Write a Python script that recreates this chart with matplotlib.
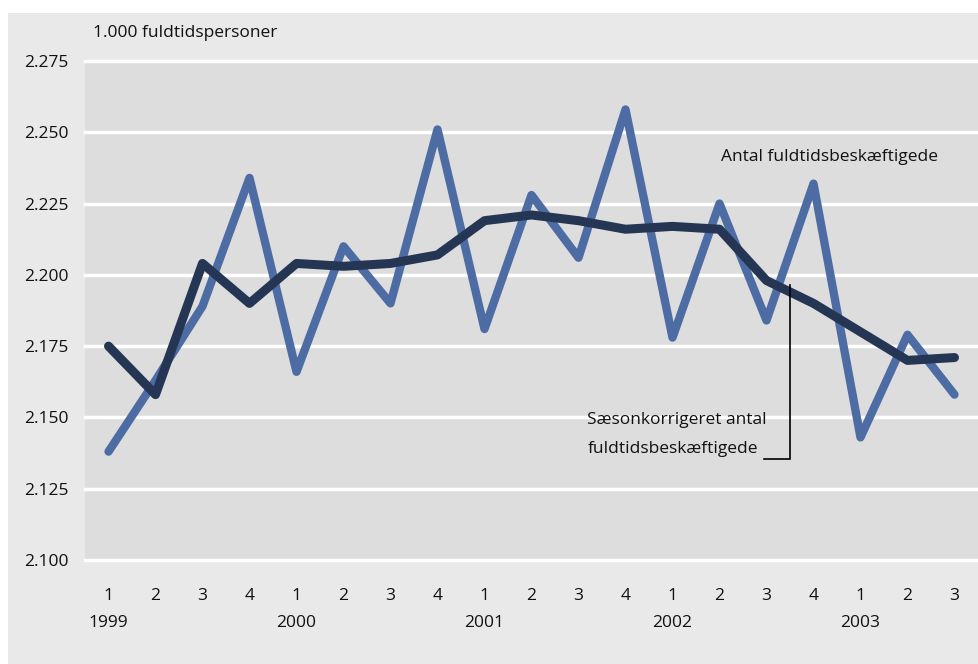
import numpy as np
import matplotlib.pyplot as plt
from matplotlib.patches import Rectangle

# Quarters 1999Q1 - 2003Q3
quarters = ['1', '2', '3', '4', '1', '2', '3', '4', '1', '2', '3', '4',
            '1', '2', '3', '4', '1', '2', '3']
years = ['1999', '2000', '2001', '2002', '2003']
year_pos = [0, 4, 8, 12, 16]

# 1.000 fuldtidspersoner
raw = [2.138, 2.163, 2.189, 2.234, 2.166, 2.210, 2.190, 2.251, 2.181, 2.228,
       2.206, 2.258, 2.178, 2.225, 2.184, 2.232, 2.143, 2.179, 2.158]
adjusted = [2.175, 2.158, 2.204, 2.190, 2.204, 2.203, 2.204, 2.207, 2.219, 2.221,
            2.219, 2.216, 2.217, 2.216, 2.198, 2.190, 2.180, 2.170, 2.171]

yticks = [2.100, 2.125, 2.150, 2.175, 2.200, 2.225, 2.250, 2.275]
ytick_labels = ['2.100', '2.125', '2.150', '2.175', '2.200', '2.225', '2.250', '2.275']

plt.rcParams['font.family'] = ['Open Sans', 'DejaVu Sans']
fs = 12.5

W, H = 979, 664
fig = plt.figure(figsize=(W / 100, H / 100), dpi=100)
fig.patch.set_facecolor('white')

# outer grey panel
fig.patches.append(Rectangle((8 / W, 0), (978 - 8) / W, (H - 13) / H,
                             transform=fig.transFigure, facecolor='#e9e9e9',
                             edgecolor='none', zorder=0))

ax = fig.add_axes([85 / W, (H - 560) / H, (978 - 85) / W, (560 - 61) / H])
ax.set_zorder(2)
ax.set_facecolor('#dddddd')

x = np.arange(len(raw))
ax.plot(x, raw, color='#4e6ca4', lw=6, solid_capstyle='round',
        solid_joinstyle='round', zorder=3)
ax.plot(x, adjusted, color='#253654', lw=6.5, solid_capstyle='round',
        solid_joinstyle='round', zorder=4)

ax.set_xlim(-0.5, len(raw) - 0.5)
ax.set_ylim(2.100, 2.275)

for yv in yticks:
    ax.axhline(yv, color='white', lw=2.5, zorder=1, clip_on=False)

for s in ax.spines.values():
    s.set_visible(False)

ax.set_yticks(yticks)
ax.set_yticklabels(ytick_labels, fontsize=fs, color='#111111')
ax.set_xticks(x)
ax.set_xticklabels(quarters, fontsize=fs, color='#111111')
ax.tick_params(axis='both', length=0)
ax.tick_params(axis='y', pad=12)
ax.tick_params(axis='x', pad=20)

tr = ax.get_xaxis_transform()
for p, yr in zip(year_pos, years):
    ax.text(p, -0.126, yr, transform=tr, ha='center', va='center',
            fontsize=fs, color='#111111')

fig.text(93 / W, (H - 33) / H, '1.000 fuldtidspersoner', ha='left', va='center',
         fontsize=fs, color='#111111')

ax.text(13.04, 2.2413, 'Antal fuldtidsbeskæftigede', ha='left', va='center',
        fontsize=fs, color='#111111')
ax.text(10.19, 2.149, 'Sæsonkorrigeret antal', ha='left', va='center',
        fontsize=fs, color='#111111')
ax.text(10.19, 2.139, 'fuldtidsbeskæftigede', ha='left', va='center',
        fontsize=fs, color='#111111')
ax.plot([13.94, 14.49, 14.49], [2.1355, 2.1355, 2.1965], color='black',
        lw=1.2, zorder=5, solid_joinstyle='miter')

fig.savefig('out.png', dpi=100, facecolor=fig.get_facecolor())
